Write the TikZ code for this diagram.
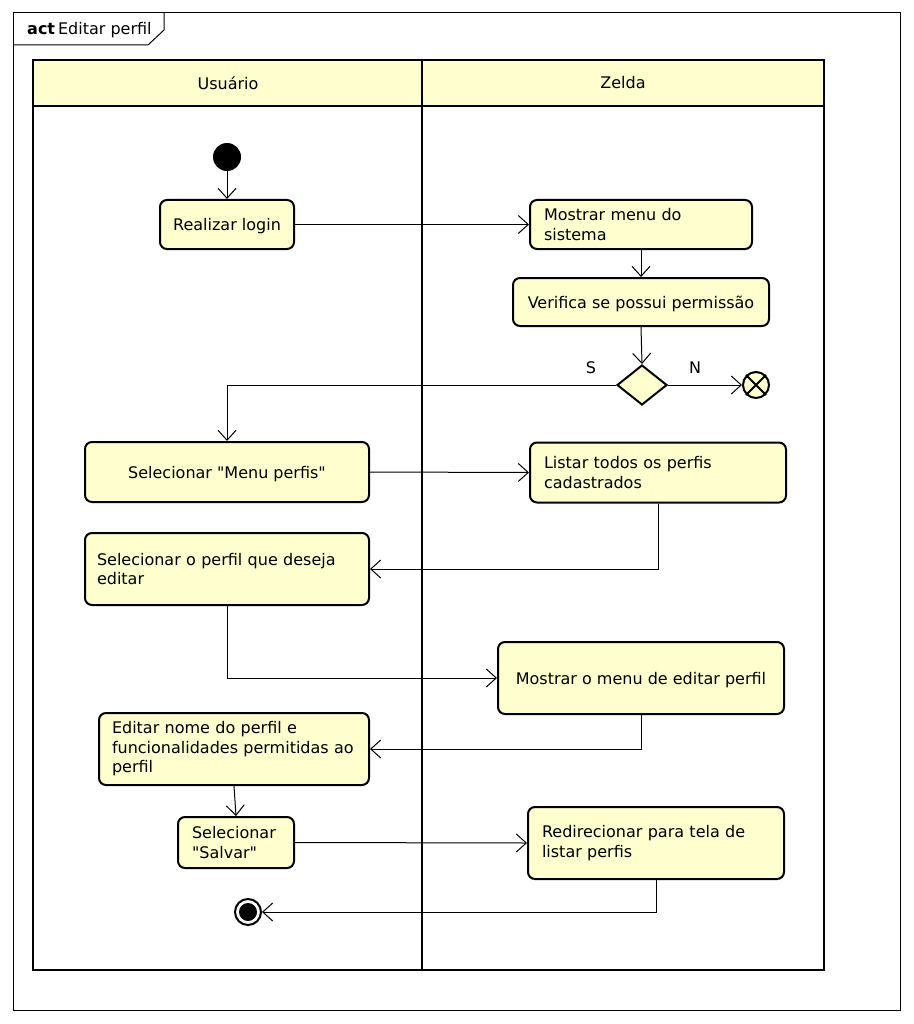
\documentclass[tikz,border=0pt]{standalone}
\usepackage{fontspec}
\setmainfont{DejaVu Sans}
\newfontfamily\quotefont{DejaVu Sans}
\usetikzlibrary{arrows.meta,shapes.geometric}
\definecolor{umlfill}{HTML}{FEFECE}
\newcommand{\sq}{{\quotefont"}}
\begin{document}
\begin{tikzpicture}[x=1pt,y=-1pt,
  every node/.style={font=\fontsize{16}{19.5}\selectfont},
  actbox/.style={draw,line width=2pt,rounded corners=7pt,fill=umlfill,inner sep=0pt,align=center},
  onebox/.style={actbox,text depth=0pt},
  leftbox/.style={actbox,inner xsep=14pt,inner ysep=0pt,align=left},
  flow/.style={line width=1pt,-{Straight Barb[length=10pt,width=18pt,line width=1pt]}},
  lbl/.style={inner sep=0pt}]
\useasboundingbox (0,0) rectangle (913,1024);
% frame
\draw[line width=1pt] (13,13) rectangle (900,1010);
\draw[line width=1pt] (13,45) -- (148,45) -- (164,30) -- (164,13);
\node[lbl,anchor=west] (title) at (27,30) {\textbf{act}\hspace{3pt}Editar perfil};
% swimlanes
\draw[line width=2pt,fill=umlfill] (33,60) rectangle (824,106);
\draw[line width=2pt] (33,60) rectangle (824,970);
\draw[line width=2pt] (422,60) -- (422,970);
\node[lbl] (lane1) at (228,83) {Usuário};
\node[lbl] (lane2) at (623,83) {Zelda};
% nodes
\node[circle,fill=black,minimum size=28pt,inner sep=0pt] (init) at (227,157) {};
\node[onebox,minimum width=134pt,minimum height=49pt] (rl) at (227,224.5) {Realizar login};
\node[leftbox,text width=194pt,minimum height=49pt] (mm) at (641,224.5) {Mostrar menu do\\sistema};
\node[onebox,minimum width=256pt,minimum height=48pt] (ver) at (641,302) {Verifica se possui permissão};
\node[diamond,draw,line width=2pt,fill=umlfill,minimum width=50pt,minimum height=40pt,inner sep=0pt] (dec) at (642,385) {};
\node[lbl] (s) at (591,368) {S};
\node[lbl] (n) at (695,368) {N};
\node[circle,draw,line width=2pt,fill=umlfill,minimum size=26pt,inner sep=0pt] (ff) at (756,385) {};
\draw[line width=2pt] (ff.north west) -- (ff.south east) (ff.north east) -- (ff.south west);
\node[onebox,minimum width=284pt,minimum height=60pt] (sel1) at (227,472) {Selecionar \sq Menu perfis\sq};
\node[leftbox,text width=228pt,minimum height=60pt] (lis) at (658,472.5) {Listar todos os perfis\\cadastrados};
\node[leftbox,inner xsep=12pt,text width=260pt,minimum height=72pt] (sel2) at (227,569) {Selecionar o perfil que deseja\\editar};
\node[onebox,minimum width=286pt,minimum height=72pt] (mom) at (641,678) {Mostrar o menu de editar perfil};
\node[leftbox,inner xsep=13pt,text width=244pt,minimum height=72pt] (edt) at (234,749) {Editar nome do perfil e\\funcionalidades permitidas ao\\perfil};
\node[leftbox,text width=88pt,minimum height=51pt] (sal) at (236,842.5) {Selecionar\\\sq Salvar\sq};
\node[leftbox,text width=228pt,minimum height=72pt] (red) at (656,843) {Redirecionar para tela de\\listar perfis};
\node[circle,draw,line width=2pt,fill=white,minimum size=26pt,inner sep=0pt] (fin) at (248,912) {};
\fill (fin.center) circle (9pt);
% flows
\draw[flow] (init) -- (rl.north);
\draw[flow] (rl.east) -- (mm.west);
\draw[flow] (mm.south) -- (ver.north);
\draw[flow] (ver.south) -- (dec.north);
\draw[flow] (dec.east) -- (ff.west);
\draw[flow] (dec.west) -| (sel1.north);
\draw[flow] (sel1.east) -- (lis.west);
\draw[flow] (lis.south) |- (sel2.east);
\draw[flow] (sel2.south) |- (mom.west);
\draw[flow] (mom.south) |- (edt.east);
\draw[flow] (edt.south) -- (sal.north);
\draw[flow] (sal.east) -- (red.west);
\draw[flow] (red.south) |- (fin.east);
\end{tikzpicture}
\end{document}
